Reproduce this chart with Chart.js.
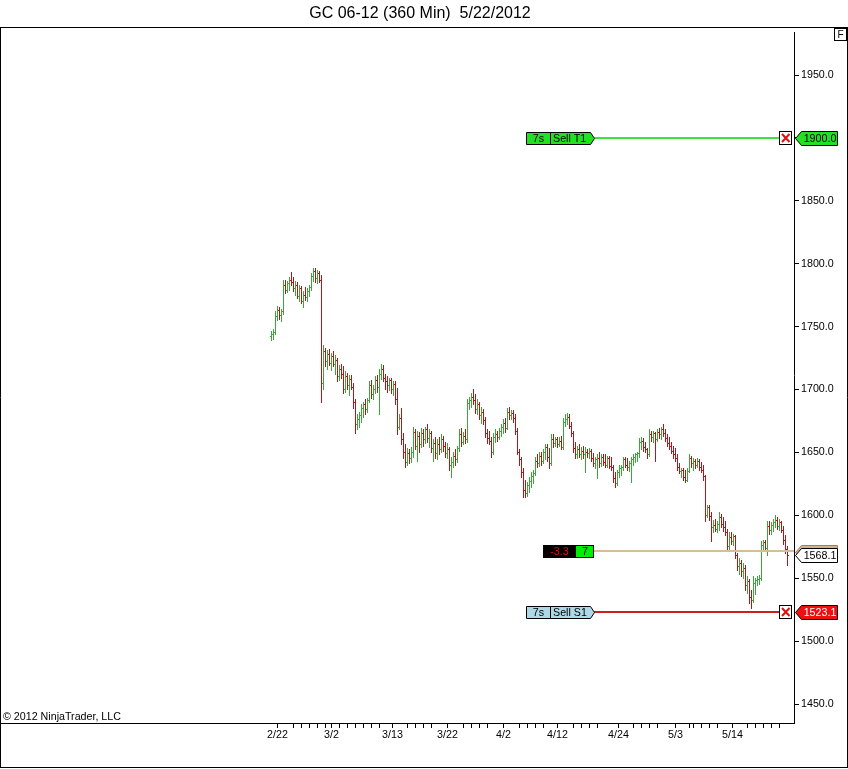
<!DOCTYPE html>
<html><head><meta charset="utf-8">
<style>html,body{margin:0;padding:0;background:#fff;overflow:hidden}#wrap{width:848px;height:769px;position:relative}</style>
<script src="https://cdn.jsdelivr.net/npm/chart.js@4.4.1/dist/chart.umd.min.js"></script>
</head><body><div id="wrap"><canvas id="c" width="848" height="769"></canvas></div>
<script>
const titleText = 'GC 06-12 (360 Min)  5/22/2012';
const copyrightText = '\u00A9 2012 NinjaTrader, LLC';

// 360-minute OHLC bars (index 0 = first bar)
const opens = [
1742,1744,1745,1758,1763,1759,1762,1783,1779,1784,
1787,1785,1780,1783,1774,1780,1770,1775,1773,1778,
1781,1790,1794,1788,1792,1787,1705,1730,1722,1728,
1721,1726,1720,1723,1710,1716,1712,1700,1710,1703,
1708,1702,1690,1672,1676,1679,1685,1688,1684,1691,
1703,1696,1700,1707,1702,1712,1716,1709,1706,1703,
1707,1700,1704,1692,1670,1677,1660,1650,1642,1649,
1645,1650,1666,1655,1663,1656,1665,1660,1668,1661,
1665,1653,1657,1649,1656,1652,1660,1655,1649,1652,
1640,1642,1647,1644,1653,1664,1658,1663,1660,1689,
1691,1694,1691,1684,1688,1679,1682,1675,1665,1661,
1659,1650,1662,1664,1662,1667,1670,1673,1669,1682,
1679,1681,1677,1667,1650,1644,1634,1620,1617,1624,
1627,1631,1633,1643,1641,1647,1643,1650,1654,1646,
1641,1660,1657,1660,1656,1659,1654,1674,1676,1678,
1671,1665,1653,1648,1652,1648,1651,1648,1650,1649,
1651,1645,1641,1644,1645,1641,1646,1642,1640,1645,
1639,1638,1629,1625,1634,1637,1638,1644,1640,1638,
1641,1644,1646,1648,1649,1658,1659,1654,1652,1648,
1664,1662,1665,1660,1666,1664,1668,1665,1661,1657,
1655,1651,1648,1645,1638,1635,1636,1630,1628,1635,
1645,1641,1643,1640,1643,1638,1636,1631,1600,1606,
1599,1590,1592,1589,1593,1598,1593,1590,1586,1575,
1582,1579,1583,1568,1559,1562,1555,1558,1544,1547,
1535,1532,1546,1548,1549,1550,1576,1578,1574,1591,
1588,1592,1594,1596,1591,1594,1588,1580,1573];
const highs = [
1746,1748,1762,1766,1765,1764,1787,1787,1786,1789,
1793,1789,1786,1785,1783,1782,1778,1781,1780,1783,
1792,1796,1796,1795,1794,1791,1735,1733,1731,1732,
1729,1730,1727,1725,1719,1720,1718,1714,1713,1711,
1711,1705,1692,1680,1682,1688,1690,1692,1693,1706,
1707,1703,1710,1711,1716,1720,1719,1712,1710,1709,
1709,1706,1706,1701,1680,1685,1665,1656,1653,1652,
1654,1670,1668,1667,1666,1669,1668,1670,1672,1668,
1667,1660,1662,1660,1662,1664,1663,1658,1657,1654,
1646,1650,1652,1655,1668,1669,1666,1668,1692,1694,
1697,1700,1696,1692,1690,1686,1684,1678,1668,1667,
1662,1665,1668,1667,1669,1672,1676,1677,1685,1686,
1683,1683,1680,1669,1652,1646,1637,1628,1626,1630,
1634,1636,1646,1648,1650,1650,1652,1656,1656,1653,
1664,1664,1662,1662,1662,1663,1677,1680,1681,1680,
1674,1667,1658,1655,1656,1654,1655,1654,1652,1653,
1652,1649,1646,1648,1650,1648,1648,1648,1647,1647,
1646,1640,1634,1636,1640,1640,1646,1646,1645,1643,
1646,1648,1649,1650,1661,1662,1661,1658,1653,1668,
1667,1667,1666,1668,1669,1670,1672,1668,1664,1662,
1658,1655,1653,1648,1641,1637,1637,1636,1637,1648,
1647,1645,1644,1645,1644,1642,1640,1632,1608,1608,
1602,1596,1597,1595,1602,1601,1598,1595,1589,1586,
1586,1585,1584,1570,1566,1564,1562,1560,1551,1549,
1540,1551,1550,1551,1552,1579,1580,1580,1595,1595,
1594,1597,1600,1598,1597,1595,1591,1584,1575];
const lows = [
1739,1740,1744,1755,1756,1754,1760,1776,1777,1779,
1783,1778,1775,1772,1770,1768,1765,1771,1770,1774,
1779,1786,1785,1784,1785,1690,1700,1718,1716,1719,
1715,1718,1712,1706,1707,1709,1697,1698,1700,1695,
1700,1685,1665,1668,1670,1674,1678,1680,1682,1690,
1693,1692,1697,1698,1680,1708,1706,1700,1698,1699,
1697,1695,1688,1664,1668,1656,1645,1638,1640,1641,
1642,1646,1652,1643,1650,1654,1655,1657,1658,1654,
1650,1643,1645,1644,1648,1650,1651,1646,1645,1636,
1630,1638,1640,1642,1651,1655,1656,1657,1658,1684,
1686,1688,1681,1680,1676,1673,1672,1662,1657,1656,
1646,1648,1658,1659,1660,1663,1665,1666,1668,1676,
1676,1674,1664,1648,1640,1630,1614,1614,1615,1618,
1622,1625,1632,1638,1639,1640,1641,1644,1643,1637,
1640,1654,1655,1654,1655,1652,1652,1671,1672,1669,
1663,1650,1645,1645,1646,1644,1645,1634,1646,1645,
1643,1639,1637,1629,1638,1639,1640,1638,1638,1637,
1636,1626,1622,1624,1630,1632,1636,1638,1636,1635,
1626,1640,1642,1643,1646,1652,1651,1650,1645,1647,
1659,1658,1643,1659,1661,1660,1663,1659,1655,1652,
1649,1645,1643,1636,1633,1630,1628,1626,1627,1634,
1638,1636,1637,1638,1636,1634,1628,1595,1598,1596,
1579,1586,1587,1586,1588,1590,1587,1584,1571,1573,
1577,1576,1566,1556,1553,1551,1550,1540,1538,1530,
1526,1531,1537,1544,1545,1548,1572,1571,1568,1585,
1585,1587,1590,1589,1588,1586,1577,1570,1560];
const closes = [
1744,1745,1758,1763,1759,1762,1783,1779,1784,1787,
1785,1780,1783,1774,1780,1770,1775,1773,1778,1781,
1790,1794,1788,1792,1787,1705,1730,1722,1728,1721,
1726,1720,1723,1710,1716,1712,1700,1710,1703,1708,
1702,1690,1672,1676,1679,1685,1688,1684,1691,1703,
1696,1700,1707,1702,1712,1716,1709,1706,1703,1707,
1700,1704,1692,1670,1677,1660,1650,1642,1649,1645,
1650,1666,1655,1663,1656,1665,1660,1668,1661,1665,
1653,1657,1649,1656,1652,1660,1655,1649,1652,1640,
1642,1647,1644,1653,1664,1658,1663,1660,1689,1691,
1694,1691,1684,1688,1679,1682,1675,1665,1661,1659,
1650,1662,1664,1662,1667,1670,1673,1669,1682,1679,
1681,1677,1667,1650,1644,1634,1620,1617,1624,1627,
1631,1633,1643,1641,1647,1643,1650,1654,1646,1641,
1660,1657,1660,1656,1659,1654,1674,1676,1678,1671,
1665,1653,1648,1652,1648,1651,1648,1650,1649,1651,
1645,1641,1644,1645,1641,1646,1642,1640,1645,1639,
1638,1629,1625,1634,1637,1638,1644,1640,1638,1641,
1644,1646,1648,1649,1658,1659,1654,1652,1648,1664,
1662,1665,1660,1666,1664,1668,1665,1661,1657,1655,
1651,1648,1645,1638,1635,1636,1630,1628,1635,1645,
1641,1643,1640,1643,1638,1636,1631,1600,1606,1599,
1590,1592,1589,1593,1598,1593,1590,1586,1575,1582,
1579,1583,1568,1559,1562,1555,1558,1544,1547,1535,
1532,1546,1548,1549,1550,1576,1578,1574,1591,1588,
1592,1594,1596,1591,1594,1588,1580,1573,1568.1];

// date axis (bar index where each labelled day starts)
const dayTickIdx = [3, 30, 60.5, 88, 116, 143, 173.5, 202, 230.5];
const dayTickLabels = ['2/22','3/2','3/13','3/22','4/2','4/12','4/24','5/3','5/14'];
const minorTickIdx = [11,15,19,23,27, 34,38,42,46,50,54, 68,72,76,80, 96,100,104,108,
  124,128,132,136, 151,155,159,163, 181,185,189,193, 209,211,215,219,223, 238,242,246,250,254];
const priceTicks = [1450,1500,1550,1600,1650,1700,1750,1800,1850,1900,1950];

// orders / position
const targetPrice = 1900.0, stopPrice = 1523.1, avgPrice = 1571.4, lastPrice = 1568.1;
const orderQtyText = '7s', targetName = 'Sell T1', stopName = 'Sell S1';
const posQty = 7, posPnl = -3.3;

const FONT = '"Liberation Sans", Arial, sans-serif';
const UP = '#38a838', DN = '#b01818';
const barData = highs.map((h, i) => ({x: i, y: [lows[i], h]}));
const barColors = closes.map((c, i) => c >= opens[i] ? UP : DN);

const ohlcTicks = {
  id: 'ohlcTicks',
  afterDatasetsDraw(chart) {
    const xs = chart.scales.x, ys = chart.scales.y, c = chart.ctx;
    c.save();
    for (let i = 0; i < opens.length; i++) {
      const px = Math.floor(xs.getPixelForValue(i));
      const yH = Math.floor(ys.getPixelForValue(highs[i]));
      const yL = Math.floor(ys.getPixelForValue(lows[i]));
      c.fillStyle = barColors[i];
      c.fillRect(px, yH, 1, Math.max(1, yL - yH + 1));
      c.fillRect(px - 1, Math.floor(ys.getPixelForValue(opens[i])), 1, 1);
      c.fillRect(px + 1, Math.floor(ys.getPixelForValue(closes[i])), 1, 1);
    }
    c.restore();
  }
};

function leftMarker(c, y, fill, stroke, text, textColor) {
  y = Math.round(y) + 0.5;
  c.beginPath();
  c.moveTo(795.5, y); c.lineTo(801.5, y - 7); c.lineTo(837.5, y - 7);
  c.lineTo(837.5, y + 7); c.lineTo(801.5, y + 7); c.closePath();
  c.fillStyle = fill; c.fill();
  c.strokeStyle = stroke; c.lineWidth = 1; c.stroke();
  if (text) {
    c.fillStyle = textColor; c.font = '10.7px ' + FONT;
    c.textAlign = 'center'; c.textBaseline = 'middle';
    c.fillText(text, 820, y + 0.5);
  }
}
function orderTag(c, y, fill, qty, name) {
  y = Math.round(y) + 0.5;
  c.beginPath();
  c.moveTo(526.5, y - 6); c.lineTo(590.5, y - 6); c.lineTo(594.5, y);
  c.lineTo(590.5, y + 6); c.lineTo(526.5, y + 6); c.closePath();
  c.fillStyle = fill; c.fill();
  c.strokeStyle = '#000'; c.lineWidth = 1; c.stroke();
  c.beginPath(); c.moveTo(550.5, y - 6); c.lineTo(550.5, y + 6); c.stroke();
  c.fillStyle = '#000'; c.font = '10.7px ' + FONT; c.textBaseline = 'middle';
  c.textAlign = 'center'; c.fillText(qty, 538.5, y + 0.5);
  c.textAlign = 'left'; c.fillText(name, 553, y + 0.5);
}
function xBox(c, y) {
  y = Math.round(y);
  c.fillStyle = '#fff'; c.fillRect(780, y - 6, 12, 12);
  c.strokeStyle = '#000'; c.lineWidth = 1; c.strokeRect(779.5, y - 6.5, 12, 13);
  c.strokeStyle = '#e01010'; c.lineWidth = 2;
  c.beginPath(); c.moveTo(782, y - 4); c.lineTo(789.5, y + 4);
  c.moveTo(789.5, y - 4); c.lineTo(782, y + 4); c.stroke();
}

const frame = {
  id: 'frame',
  beforeDraw(chart) {
    const c = chart.ctx; c.save(); c.fillStyle = '#fff'; c.fillRect(0, 0, 848, 769); c.restore();
  },
  afterDraw(chart) {
    const c = chart.ctx, ys = chart.scales.y;
    c.save();
    c.fillStyle = '#fff'; c.fillRect(793, 28, 3, 4);
    c.strokeStyle = '#000'; c.lineWidth = 1;
    c.beginPath();
    c.moveTo(0, 27.5); c.lineTo(848, 27.5);
    c.moveTo(0.5, 27); c.lineTo(0.5, 768);
    c.moveTo(847.5, 27); c.lineTo(847.5, 768);
    c.moveTo(0, 767.5); c.lineTo(848, 767.5);
    c.stroke();
    c.fillStyle = '#000'; c.font = '16px ' + FONT; c.textAlign = 'center'; c.textBaseline = 'middle';
    c.fillText(titleText, 420, 13.5);
    c.strokeRect(834.5, 28.5, 12, 12);
    c.font = '10px ' + FONT; c.fillText('F', 840.5, 35);
    c.font = '10.7px ' + FONT; c.textAlign = 'left'; c.textBaseline = 'alphabetic';
    c.fillText(copyrightText, 3, 720);

    const yT = ys.getPixelForValue(targetPrice);
    c.fillStyle = '#3fe03f'; c.fillRect(594, Math.round(yT) - 1, 186, 2);
    orderTag(c, yT, '#22e022', orderQtyText, targetName);
    xBox(c, yT);
    leftMarker(c, yT, '#22e022', '#000', targetPrice.toFixed(1), '#000');

    const yS = ys.getPixelForValue(stopPrice);
    c.fillStyle = '#cc2020'; c.fillRect(594, Math.round(yS) - 1, 186, 2);
    orderTag(c, yS, '#add8e6', orderQtyText, stopName);
    xBox(c, yS);
    leftMarker(c, yS, '#ee1010', '#000', stopPrice.toFixed(1), '#fff');

    const yP = ys.getPixelForValue(avgPrice);
    c.fillStyle = '#d8bc94'; c.fillRect(594, Math.round(yP) - 1, 200, 2);
    const r = Math.round(yP);
    c.fillStyle = '#000'; c.fillRect(543, r - 6, 33, 13);
    c.fillStyle = '#00ee00'; c.fillRect(576, r - 6, 18, 13);
    c.strokeStyle = '#000'; c.lineWidth = 1; c.strokeRect(543.5, r - 5.5, 50, 12);
    c.font = '10.7px ' + FONT; c.textAlign = 'center'; c.textBaseline = 'middle';
    c.fillStyle = '#dd1111'; c.fillText(posPnl.toFixed(1), 559.5, r + 1);
    c.fillStyle = '#000'; c.fillText(String(posQty), 585, r + 1);
    leftMarker(c, yP + 1, '#d2b48c', '#a08060', '', '#000');
    leftMarker(c, ys.getPixelForValue(lastPrice), '#fff', '#000', lastPrice.toFixed(1), '#000');
    c.restore();
  }
};

new Chart(document.getElementById('c').getContext('2d'), {
  type: 'bar',
  data: { datasets: [{ data: barData, backgroundColor: barColors, borderWidth: 0,
    barThickness: 1, inflateAmount: 0, borderSkipped: false }] },
  options: {
    responsive: false, devicePixelRatio: 1, animation: false,
    layout: { padding: { top: 27, left: 1, right: 0, bottom: 2 } },
    plugins: { legend: { display: false }, tooltip: { enabled: false }, title: { display: false } },
    scales: {
      x: {
        type: 'linear', position: 'bottom', min: -135.25, max: 261.25, offset: false,
        afterBuildTicks: s => { s.ticks = dayTickIdx.concat(minorTickIdx).sort((a, b) => a - b).map(v => ({ value: v })); },
        afterFit: s => { s.height = 44; },
        ticks: { autoSkip: false, maxRotation: 0, minRotation: 0, padding: 1, color: '#000',
          font: { family: FONT, size: 10.7 },
          callback: v => { const k = dayTickIdx.indexOf(v); return k >= 0 ? dayTickLabels[k] : ''; } },
        grid: { display: true, offset: false, drawOnChartArea: false, drawTicks: true, tickLength: 5, color: '#000', lineWidth: 1 },
        border: { display: true, color: '#000', width: 1 }
      },
      y: {
        type: 'linear', position: 'right', min: 1434.9, max: 1988.2, beginAtZero: false,
        afterBuildTicks: s => { s.ticks = priceTicks.map(v => ({ value: v })); },
        afterFit: s => { s.width = 54; },
        ticks: { padding: 2, color: '#000', font: { family: FONT, size: 10.7 }, callback: v => Number(v).toFixed(1) },
        grid: { display: true, drawOnChartArea: false, drawTicks: true, tickLength: 5, color: '#000' },
        border: { display: true, color: '#000', width: 1 }
      }
    }
  },
  plugins: [ohlcTicks, frame]
});
</script></body></html>
